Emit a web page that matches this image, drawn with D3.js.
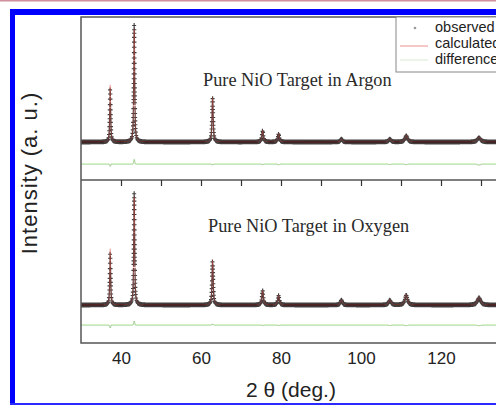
<!DOCTYPE html>
<html><head><meta charset="utf-8">
<script src="https://cdn.jsdelivr.net/npm/d3@7"></script>
<style>body{margin:0;background:#fff}svg{display:block}</style>
</head><body><svg id="chart" width="496" height="405"></svg>
<script>
// NiO reflections, 2θ (deg.), and refined widths (FWHM, deg.)
const peakPos  = [37.3, 43.3, 62.9, 75.4, 79.4, 95.1, 107.2, 111.3, 129.5];
const peakFwhm = [0.26, 0.28, 0.34, 0.45, 0.48, 0.6, 0.7, 0.75, 0.95];
// peak intensities above background (a. u.)
const argonHeights  = [350, 690, 272, 72, 52, 18, 20, 42, 32];
const oxygenHeights = [345, 662, 272, 90, 60, 30, 32, 64, 48];
// observed - calculated at each reflection
const argonDiff  = [-14, 28, -6, -4, -5, 0, -3, -4, -6];
const oxygenDiff = [-18, 24, 6, -3, -3, 0, -3, -4, -4];
const background = [233, 233];
const diffZero = [98, 110];
const panelNames = ['Pure NiO Target in Argon', 'Pure NiO Target in Oxygen'];
const xTicks = [40, 60, 80, 100, 120];
const legendLabels = ['observed', 'calculated', 'difference'];

const svg = d3.select('#chart');
const plotLeft = 81, plotTop = 17, plotMid = 180, plotBottom = 343;

let x = d3.scaleLinear().domain([30, 140]).range([plotLeft, 521]);
let yTop = d3.scaleLinear().domain([0, 1000]).range([plotMid, plotTop]);
let yBot = d3.scaleLinear().domain([0, 1000]).range([plotBottom, plotMid]);

function pv(t, x0, w) {
  let u = (t - x0) / w;
  let L = 1 / (1 + 4 * u * u);
  let G = Math.exp(-4 * Math.LN2 * u * u);
  return 0.8 * L + 0.2 * G;
}

const grid = d3.range(30, 140, 0.01);

const panels = [
  {name: panelNames[0], h: argonHeights, d: argonDiff, bg: background[0], dz: diffZero[0], y: yTop, ty: 86, tx: 203},
  {name: panelNames[1], h: oxygenHeights, d: oxygenDiff, bg: background[1], dz: diffZero[1], y: yBot, ty: 232, tx: 208}
];

svg.append('clipPath').attr('id', 'plotclip')
  .append('rect').attr('x', plotLeft).attr('y', plotTop).attr('width', 496 - plotLeft).attr('height', plotBottom - plotTop);

const plot = svg.append('g').attr('clip-path', 'url(#plotclip)');

panels.forEach(function(p) {
  let pts = grid.map(function(t) {
    let calc = p.bg, diff = 0;
    peakPos.forEach(function(x0, i) {
      calc += p.h[i] * pv(t, x0, peakFwhm[i]);
      let g = Math.exp(-4 * Math.LN2 * Math.pow((t - x0) / peakFwhm[i], 2));
      diff += p.d[i] * g;
    });
    return {t: t, calc: calc, obs: calc + diff, diff: diff};
  });

  plot.append('path')
    .attr('d', d3.line().x(function(d){return x(d.t)}).y(function(d){return p.y(p.dz + d.diff)})(pts))
    .attr('fill', 'none').attr('stroke', '#8cc97a').attr('stroke-width', 1);

  // observed markers, skipping ones that would land on the previous
  let path = d3.path();
  let lx = -99, ly = -99;
  pts.forEach(function(d) {
    let px = x(d.t), py = p.y(d.obs);
    if (Math.abs(px - lx) < 0.5 && Math.abs(py - ly) < 3.2) return;
    lx = px; ly = py;
    path.moveTo(px - 2, py); path.lineTo(px + 2, py);
    path.moveTo(px, py - 2.4); path.lineTo(px, py + 2.4);
  });
  plot.append('path').attr('d', path.toString())
    .attr('fill', 'none').attr('stroke', '#140c0c').attr('stroke-width', 1.15).attr('stroke-opacity', 0.8);

  plot.append('path')
    .attr('d', d3.line().x(function(d){return x(d.t)}).y(function(d){return p.y(d.calc)})(pts))
    .attr('fill', 'none').attr('stroke', '#e8453c').attr('stroke-width', 0.8).attr('stroke-opacity', 0.45);

  svg.append('text').attr('x', p.tx).attr('y', p.ty)
    .attr('font-family', '"Liberation Serif", "Times New Roman", serif')
    .attr('font-size', 18.3).attr('fill', '#2a2a2a').text(p.name);
});

// frame and divider
svg.append('rect').attr('x', plotLeft).attr('y', plotTop).attr('width', 520 - plotLeft).attr('height', plotBottom - plotTop)
  .attr('fill', 'none').attr('stroke', '#555').attr('stroke-width', 1.5);
svg.append('line').attr('x1', plotLeft).attr('x2', 520).attr('y1', plotMid).attr('y2', plotMid)
  .attr('stroke', '#555').attr('stroke-width', 1.5);

let divAxis = svg.append('g').attr('transform', 'translate(0,' + plotMid + ')')
  .call(d3.axisBottom(x).tickValues(d3.range(40, 140, 10)).tickSize(6).tickFormat(''));
divAxis.select('.domain').remove();
divAxis.selectAll('line').attr('stroke', '#333').attr('stroke-width', 1.2);

let botAxis = svg.append('g').attr('transform', 'translate(0,' + plotBottom + ')')
  .call(d3.axisBottom(x).tickValues(xTicks).tickSize(0).tickPadding(9));
botAxis.select('.domain').remove();
botAxis.selectAll('text').attr('font-family', '"Liberation Sans", Arial, sans-serif')
  .attr('font-size', 17).attr('fill', '#222');

svg.append('text').attr('x', 291).attr('y', 397).attr('text-anchor', 'middle')
  .attr('font-family', '"Liberation Sans", Arial, sans-serif').attr('font-size', 21).attr('fill', '#222')
  .text('2 θ (deg.)');

svg.append('text').attr('transform', 'translate(37,173) rotate(-90)').attr('text-anchor', 'middle')
  .attr('font-family', '"Liberation Sans", Arial, sans-serif').attr('font-size', 22)
  .attr('letter-spacing', 1).attr('fill', '#222')
  .text('Intensity (a. u.)');

// legend
let lg = svg.append('g');
lg.append('rect').attr('x', 396).attr('y', plotTop).attr('width', 130).attr('height', 72 - plotTop)
  .attr('fill', '#fff').attr('stroke', '#888').attr('stroke-width', 1);
let rows = [32, 48, 64];
lg.append('circle').attr('cx', 415).attr('cy', rows[0] - 4).attr('r', 1.3).attr('fill', '#999');
lg.append('line').attr('x1', 400).attr('x2', 428).attr('y1', rows[1] - 2).attr('y2', rows[1] - 2)
  .attr('stroke', '#e0483f').attr('stroke-opacity', 0.6).attr('stroke-width', 1);
lg.append('line').attr('x1', 400).attr('x2', 428).attr('y1', rows[2] - 4).attr('y2', rows[2] - 4)
  .attr('stroke', '#d8ead0').attr('stroke-width', 1);
lg.selectAll('text.lab').data(legendLabels).join('text').attr('class', 'lab')
  .attr('x', 435).attr('y', function(d, i){return rows[i]})
  .attr('font-family', '"Liberation Sans", Arial, sans-serif').attr('font-size', 14.5).attr('fill', '#222')
  .text(function(d){return d});

// page border
svg.append('rect').attr('x', 0).attr('y', 0).attr('width', 496).attr('height', 1.5).attr('fill', '#cf8f9c');
svg.append('rect').attr('x', 10).attr('y', 9).attr('width', 486).attr('height', 6).attr('fill', '#0000ff');
svg.append('rect').attr('x', 10).attr('y', 9).attr('width', 5).attr('height', 396).attr('fill', '#0000ff');
svg.append('rect').attr('x', 10).attr('y', 403).attr('width', 486).attr('height', 2).attr('fill', '#2a2aff');
</script></body></html>
